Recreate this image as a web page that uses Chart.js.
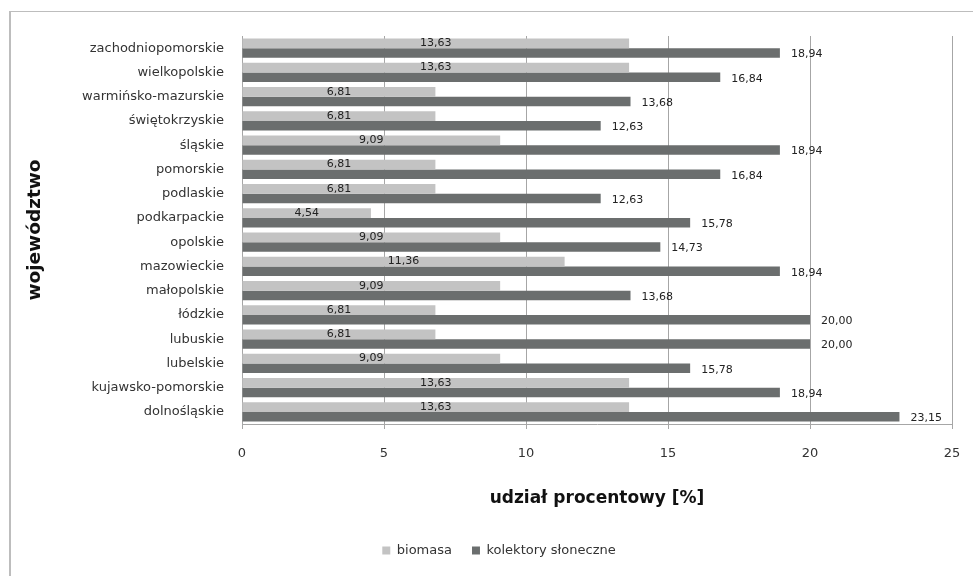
<!DOCTYPE html>
<html>
<head>
<meta charset="utf-8">
<script src="https://cdn.jsdelivr.net/npm/chart.js@4/dist/chart.umd.min.js"></script>
<style>
  html, body { margin: 0; padding: 0; background: #fff; overflow: hidden; }
  #wrap { position: relative; width: 973px; height: 576px; overflow: hidden; }
  .edge { position: absolute; background: #bdbdbd; }
  #edgeLeft { left: 9px; top: 11px; width: 2px; height: 565px; }
  #edgeTop { left: 9px; top: 11px; width: 964px; height: 1px; }
  canvas { position: absolute; left: 0; top: 0; }
</style>
</head>
<body>
<div id="wrap">
  <div class="edge" id="edgeLeft"></div>
  <div class="edge" id="edgeTop"></div>
  <canvas id="chart" width="973" height="576"></canvas>
</div>
<script>
// Voivodeships, listed top to bottom
const voivodeships = [
  'zachodniopomorskie', 'wielkopolskie', 'warmińsko-mazurskie', 'świętokrzyskie',
  'śląskie', 'pomorskie', 'podlaskie', 'podkarpackie', 'opolskie', 'mazowieckie',
  'małopolskie', 'łódzkie', 'lubuskie', 'lubelskie', 'kujawsko-pomorskie', 'dolnośląskie'
];

// Percentage share per voivodeship
const biomasa = [13.63, 13.63, 6.81, 6.81, 9.09, 6.81, 6.81, 4.54, 9.09, 11.36, 9.09, 6.81, 6.81, 9.09, 13.63, 13.63];
const kolektorySloneczne = [18.94, 16.84, 13.68, 12.63, 18.94, 16.84, 12.63, 15.78, 14.73, 18.94, 13.68, 20.00, 20.00, 15.78, 18.94, 23.15];

// Value axis range and step
const xMin = 0;
const xMax = 25;
const xStep = 5;

const seriesNames = ['biomasa', 'kolektory słoneczne'];
const seriesColors = ['#c3c3c3', '#6b6e6e'];

const FONT = '"DejaVu Sans", sans-serif';
const fmt = v => v.toFixed(2).replace('.', ',');

// Value labels: light bars get a centred label, dark bars a label past the bar end
const valueLabels = {
  id: 'valueLabels',
  afterDatasetsDraw(chart) {
    const ctx = chart.ctx;
    ctx.save();
    ctx.font = '11px ' + FONT;
    ctx.fillStyle = '#222';
    ctx.textBaseline = 'middle';
    chart.data.datasets.forEach((ds, di) => {
      const meta = chart.getDatasetMeta(di);
      meta.data.forEach((bar, i) => {
        const txt = fmt(ds.data[i]);
        if (di === 0) {
          ctx.textAlign = 'center';
          ctx.fillText(txt, (bar.base + bar.x) / 2, bar.y);
        } else {
          ctx.textAlign = 'left';
          ctx.fillText(txt, bar.x + 11, bar.y + 1.5);
        }
      });
    });
    ctx.restore();
  }
};

new Chart(document.getElementById('chart'), {
  type: 'bar',
  data: {
    labels: voivodeships,
    datasets: [
      { label: seriesNames[0], data: biomasa, backgroundColor: seriesColors[0] },
      { label: seriesNames[1], data: kolektorySloneczne, backgroundColor: seriesColors[1] }
    ]
  },
  options: {
    indexAxis: 'y',
    responsive: false,
    animation: false,
    devicePixelRatio: 1,
    datasets: { bar: { categoryPercentage: 0.8, barPercentage: 1.0 } },
    layout: { padding: { left: 46, right: 21, top: 36, bottom: 9 } },
    plugins: {
      tooltip: { enabled: false },
      legend: {
        position: 'bottom',
        labels: {
          boxWidth: 8, boxHeight: 8, padding: 20,
          color: '#333',
          font: { family: FONT, size: 13 }
        }
      }
    },
    scales: {
      x: {
        min: xMin, max: xMax,
        afterFit: s => { s.height = 100; s.paddingRight = 0; },
        ticks: { stepSize: xStep, padding: 17, color: '#333', font: { family: FONT, size: 13 } },
        grid: { color: '#a6a6a6', lineWidth: 1, tickLength: 5, drawTicks: true },
        border: { color: '#a6a6a6' },
        title: {
          display: true, text: 'udział procentowy [%]', color: '#111',
          font: { family: FONT, size: 17, weight: 'bold' },
          padding: { top: 0, bottom: 15 }
        }
      },
      y: {
        afterFit: s => { s.width = 196; },
        ticks: { padding: 18, color: '#333', font: { family: FONT, size: 13 } },
        grid: { display: false, drawTicks: false },
        border: { display: true, color: '#a6a6a6' },
        title: {
          display: true, text: 'województwo', color: '#111',
          font: { family: FONT, size: 18.5, weight: 'bold' },
          padding: { top: -22, bottom: 0 }
        }
      }
    }
  },
  plugins: [valueLabels]
});
</script>
</body>
</html>
